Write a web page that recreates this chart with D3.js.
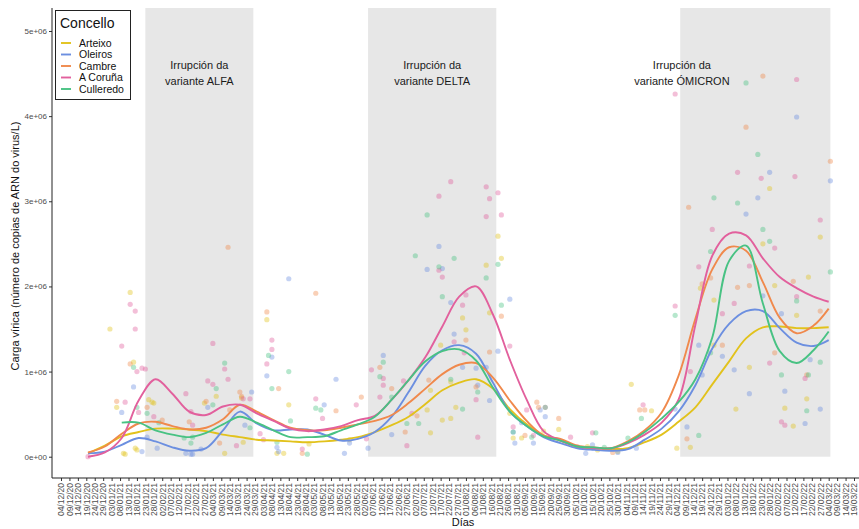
<!DOCTYPE html>
<html>
<head>
<meta charset="utf-8">
<script src="https://cdn.jsdelivr.net/npm/d3@7"></script>
<style>
  body { margin: 0; background: #fff; }
  svg { display: block; }
  text { font-family: "Liberation Sans", Arial, sans-serif; }
</style>
</head>
<body>
<div id="chart"></div>
<script>
// values are in millions of copies / L
const concellos = ["Arteixo", "Oleiros", "Cambre", "A Coruña", "Culleredo"];
const colors = ["#E2C21C", "#6C8FE0", "#F0894C", "#E2609D", "#48C283"];

const yTicks = [0, 1, 2, 3, 4, 5];
const yTickLabels = ["0e+00", "1e+06", "2e+06", "3e+06", "4e+06", "5e+06"];
const firstTick = "04/12/20", lastTick = "19/03/22", tickStepDays = 5;

const periods = [
  { start: "23/01/21", end: "28/03/21", label: "variante ALFA", at: "24/02/21" },
  { start: "04/06/21", end: "19/08/21", label: "variante DELTA", at: "12/07/21" },
  { start: "06/12/21", end: "05/03/22", label: "variante ÓMICRON", at: "07/12/21" }
];

// smoothed curves, read every 10 days
const smoothDates = ["20/12/20","30/12/20","09/01/21","19/01/21","29/01/21","08/02/21","18/02/21","28/02/21","10/03/21","20/03/21",
  "30/03/21","09/04/21","19/04/21","29/04/21","09/05/21","19/05/21","29/05/21","08/06/21","18/06/21","28/06/21",
  "08/07/21","18/07/21","28/07/21","07/08/21","17/08/21","27/08/21","06/09/21","16/09/21","26/09/21","06/10/21",
  "16/10/21","26/10/21","05/11/21","15/11/21","25/11/21","05/12/21","15/12/21","25/12/21","04/01/22","14/01/22",
  "24/01/22","03/02/22","13/02/22","23/02/22","04/03/22"];
const smoothArteixo = [0.04,0.13,0.24,0.29,0.33,0.33,0.32,0.30,0.26,0.23, 0.20,0.19,0.18,0.17,0.18,0.20,0.23,0.29,0.37,0.47,
  0.62,0.78,0.87,0.91,0.80,0.56,0.38,0.25,0.19,0.12, 0.10,0.09,0.10,0.17,0.26,0.41,0.58,0.85,1.12,1.39, 1.52,1.53,1.51,1.51,1.52];
const smoothOleiros = [0.04,0.06,0.14,0.22,0.18,0.11,0.07,0.10,0.31,0.53, 0.39,0.31,0.32,0.32,0.26,0.19,0.21,0.29,0.47,0.76,
  1.07,1.25,1.31,1.21,0.87,0.53,0.36,0.23,0.16,0.10, 0.08,0.07,0.09,0.20,0.33,0.53,0.84,1.27,1.56,1.71, 1.71,1.51,1.34,1.30,1.37];
const smoothCambre = [0.05,0.12,0.27,0.39,0.41,0.36,0.32,0.34,0.44,0.61, 0.53,0.43,0.34,0.31,0.31,0.34,0.38,0.42,0.49,0.63,
  0.80,0.97,1.08,1.10,0.93,0.66,0.42,0.25,0.21,0.13, 0.11,0.10,0.18,0.31,0.52,0.95,1.62,2.20,2.46,2.42, 2.05,1.63,1.45,1.54,1.74];
const smoothCoruna = [0.00,0.05,0.22,0.66,0.91,0.74,0.53,0.49,0.59,0.61, 0.51,0.42,0.33,0.30,0.32,0.36,0.43,0.48,0.67,0.90,
  1.17,1.53,1.88,2.00,1.67,1.14,0.67,0.30,0.19,0.12, 0.10,0.10,0.16,0.26,0.40,0.67,1.55,2.36,2.62,2.60, 2.33,2.11,1.98,1.88,1.82];
const smoothCulleredo = [null,null,0.40,0.40,0.31,0.26,0.23,0.28,0.38,0.47, 0.40,0.31,0.23,0.23,0.24,0.31,0.38,0.47,0.67,0.90,
  1.12,1.24,1.26,1.13,0.81,0.53,0.36,0.24,0.19,0.12, 0.11,0.10,0.17,0.29,0.45,0.64,0.91,1.40,2.30,2.48, 1.80,1.24,1.10,1.25,1.47];

// individual samples [date, value]
const ptsArteixo = [["02/01/21",1.50],["06/01/21",0.58],["10/01/21",0.04],["11/01/21",0.03],["14/01/21",1.93],["16/01/21",1.11],
  ["17/01/21",0.10],["18/01/21",0.08],["25/01/21",0.67],["27/01/21",0.64],["28/01/21",0.63],["27/02/21",0.63],["06/03/21",0.71],
  ["11/03/21",0.04],["21/03/21",0.69],["22/03/21",0.17],["05/04/21",1.61],["11/04/21",0.04],["15/04/21",0.04],["18/04/21",0.61],
  ["30/04/21",0.15],["24/05/21",0.20],["09/07/21",0.55],["11/07/21",0.28],["11/07/21",0.78],["17/07/21",1.31],["18/07/21",0.43],
  ["23/07/21",0.88],["23/07/21",0.45],["26/07/21",0.58],["30/07/21",1.63],["01/08/21",1.49],["13/08/21",2.25],["15/08/21",1.69],
  ["20/08/21",2.59],["22/08/21",2.33],["27/08/21",0.51],["29/08/21",0.22],["03/09/21",0.22],["16/09/21",0.30],["25/09/21",0.32],
  ["12/10/21",0.12],["18/10/21",0.08],["30/10/21",0.06],["07/11/21",0.85],["19/11/21",0.54],["04/12/21",0.10],["12/12/21",0.11],
  ["18/12/21",1.98],["26/12/21",1.84],["26/12/21",1.31],["08/01/22",0.56],["16/01/22",1.05],["24/01/22",2.50],["28/01/22",3.15],
  ["31/01/22",2.01],["06/02/22",0.57],["11/02/22",0.36],["13/02/22",1.66],["19/02/22",0.68],["20/02/22",2.11],["27/02/22",2.58]];
const ptsOleiros = [["09/01/21",0.52],["16/01/21",0.82],["21/01/21",0.06],["24/01/21",0.23],["30/01/21",0.10],["16/02/21",0.04],
  ["19/02/21",0.03],["20/02/21",0.03],["25/02/21",0.09],["01/03/21",0.58],["23/03/21",0.37],["27/03/21",0.76],["05/04/21",0.95],
  ["08/04/21",1.17],["11/04/21",0.11],["12/04/21",0.06],["18/04/21",2.09],["09/05/21",0.61],["16/05/21",0.91],["21/05/21",0.04],
  ["24/05/21",0.16],["04/06/21",0.10],["13/06/21",1.19],["18/06/21",0.26],["09/07/21",2.20],["16/07/21",2.47],["18/07/21",2.21],
  ["23/07/21",1.81],["25/07/21",1.44],["30/07/21",1.05],["07/08/21",1.04],["08/08/21",0.84],["13/08/21",1.05],["15/08/21",0.66],
  ["20/08/21",1.24],["27/08/21",1.85],["29/08/21",0.29],["30/08/21",0.16],["03/09/21",0.40],["10/09/21",0.16],["14/09/21",0.55],
  ["17/09/21",0.47],["11/10/21",0.04],["15/10/21",0.14],["30/10/21",0.05],["10/11/21",0.10],["03/12/21",0.56],["10/12/21",0.35],
  ["17/12/21",1.31],["19/12/21",0.96],["31/12/21",1.18],["07/01/22",1.02],["14/01/22",2.85],["16/01/22",0.74],["21/01/22",3.04],
  ["24/01/22",1.89],["28/01/22",3.34],["04/02/22",1.68],["06/02/22",0.77],["13/02/22",3.99],["18/02/22",0.39],["21/02/22",1.14],
  ["27/02/22",0.56],["05/03/22",3.24]];
const ptsCambre = [["06/01/21",0.65],["14/01/21",1.09],["24/01/21",0.58],["02/02/21",0.43],["18/02/21",0.41],["28/02/21",0.65],
  ["08/03/21",0.16],["13/03/21",2.46],["14/03/21",0.55],["20/03/21",0.76],["21/03/21",0.71],["05/04/21",1.70],["12/04/21",0.80],
  ["26/04/21",0.04],["04/05/21",1.92],["16/05/21",0.54],["31/05/21",0.70],["11/06/21",1.05],["18/06/21",0.80],["26/06/21",0.29],
  ["03/07/21",0.48],["10/07/21",0.90],["01/08/21",1.37],["07/08/21",0.82],["15/08/21",1.23],["22/08/21",1.65],["05/09/21",0.25],
  ["12/09/21",0.64],["13/09/21",0.58],["25/09/21",0.45],["06/10/21",0.12],["27/10/21",0.05],["12/11/21",0.55],["15/11/21",0.55],
  ["10/12/21",0.21],["11/12/21",2.93],["19/12/21",2.03],["24/12/21",2.10],["31/12/21",1.31],["09/01/22",1.99],["14/01/22",3.87],
  ["16/01/22",2.01],["24/01/22",4.47],["31/01/22",1.22],["11/02/22",2.06],["19/02/22",0.96],["27/02/22",1.71],["05/03/22",3.47]];
const ptsCoruna = [["20/12/20",0.00],["09/01/21",1.30],["11/01/21",0.64],["14/01/21",1.79],["17/01/21",1.71],["17/01/21",1.50],
  ["18/01/21",1.00],["19/01/21",0.52],["21/01/21",1.04],["23/01/21",1.03],["28/01/21",0.47],["16/02/21",0.74],["19/02/21",0.53],
  ["20/02/21",0.37],["01/03/21",0.89],["04/03/21",1.33],["04/03/21",0.85],["11/03/21",1.03],["13/03/21",0.91],["18/03/21",0.13],
  ["22/03/21",0.68],["26/03/21",0.68],["01/04/21",0.27],["03/04/21",0.20],["05/04/21",1.09],["08/04/21",1.37],["08/04/21",1.26],
  ["26/04/21",0.09],["04/05/21",0.68],["08/05/21",0.45],["28/05/21",0.61],["03/06/21",0.21],["06/06/21",1.02],["11/06/21",0.70],
  ["13/06/21",0.92],["13/06/21",0.84],["25/06/21",0.89],["27/06/21",0.13],["30/06/21",0.51],["16/07/21",3.06],["16/07/21",2.19],
  ["18/07/21",2.11],["23/07/21",3.23],["25/07/21",1.35],["30/07/21",1.78],["31/07/21",1.22],["01/08/21",1.90],["07/08/21",0.67],
  ["08/08/21",0.23],["13/08/21",3.17],["13/08/21",2.82],["15/08/21",3.03],["20/08/21",3.10],["22/08/21",2.84],["27/08/21",1.30],
  ["29/08/21",0.35],["06/09/21",0.55],["10/09/21",0.25],["17/09/21",0.58],["02/10/21",0.23],["15/10/21",0.28],["14/11/21",0.61],
  ["03/12/21",1.77],["03/12/21",4.26],["12/12/21",1.00],["17/12/21",2.23],["25/12/21",2.67],["31/12/21",1.68],["07/01/22",1.80],
  ["09/01/22",3.34],["16/01/22",2.24],["23/01/22",3.27],["28/01/22",1.10],["31/01/22",2.45],["04/02/22",0.41],["06/02/22",0.37],
  ["12/02/22",3.29],["13/02/22",4.43],["13/02/22",1.88],["18/02/22",0.92],["27/02/22",2.78]];
const ptsCulleredo = [["16/01/21",1.05],["18/01/21",0.58],["24/01/21",0.51],["31/01/21",0.40],["15/02/21",0.22],["19/02/21",0.16],
  ["20/02/21",0.23],["04/03/21",0.61],["06/03/21",0.80],["11/03/21",1.10],["26/03/21",0.34],["06/04/21",1.19],["08/04/21",0.80],
  ["11/04/21",0.17],["18/04/21",1.00],["19/04/21",0.42],["29/04/21",0.03],["04/05/21",0.57],["07/05/21",0.55],["11/06/21",0.94],
  ["13/06/21",1.11],["18/06/21",0.70],["27/06/21",0.39],["02/07/21",2.36],["04/07/21",0.39],["09/07/21",2.84],["16/07/21",2.23],
  ["18/07/21",1.88],["23/07/21",0.91],["25/07/21",2.33],["30/07/21",0.56],["08/08/21",0.76],["13/08/21",2.10],["20/08/21",2.26],
  ["22/08/21",1.78],["29/08/21",0.29],["09/09/21",0.23],["17/09/21",0.58],["17/10/21",0.28],["22/10/21",0.11],["05/11/21",0.22],
  ["13/11/21",0.45],["03/12/21",1.66],["17/12/21",0.25],["24/12/21",1.22],["24/12/21",2.41],["26/12/21",3.04],["09/01/22",2.98],
  ["14/01/22",4.39],["21/01/22",3.55],["24/01/22",2.67],["28/01/22",2.53],["04/02/22",0.96],["13/02/22",1.83],["19/02/22",0.54],
  ["20/02/22",0.96],["27/02/22",1.11],["05/03/22",2.17]];

const smoothSeries = [smoothArteixo, smoothOleiros, smoothCambre, smoothCoruna, smoothCulleredo];
const pointSeries = [ptsArteixo, ptsOleiros, ptsCambre, ptsCoruna, ptsCulleredo];

const W = 859, H = 529;
const panel = { left: 52, right: 874, top: 8, bottom: 478 };
const parse = d3.utcParse("%d/%m/%y");
const fmt = d3.utcFormat("%d/%m/%y");
const M = 1e6;

const x = d3.scaleUtc().domain([parse(firstTick), parse(lastTick)]).range([61, 854]);
const y = d3.scaleLinear().domain([-0.25 * M, 5.27 * M]).range([panel.bottom, panel.top]);

const svg = d3.select("#chart").append("svg").attr("width", W).attr("height", H);

// shaded periods
svg.append("g").selectAll("rect").data(periods).enter().append("rect")
  .attr("x", d => x(parse(d.start)))
  .attr("y", panel.top)
  .attr("width", d => x(parse(d.end)) - x(parse(d.start)))
  .attr("height", y(0) - panel.top)
  .attr("fill", "#E7E7E7");

// points
pointSeries.forEach((pts, i) => {
  svg.append("g").selectAll("circle").data(pts).enter().append("circle")
    .attr("cx", d => x(parse(d[0])))
    .attr("cy", d => y(d[1] * M))
    .attr("r", 2.6)
    .attr("fill", colors[i])
    .attr("fill-opacity", 0.4);
});

// smooth lines
const line = d3.line()
  .defined(d => d[1] != null)
  .x(d => x(parse(d[0])))
  .y(d => y(d[1] * M))
  .curve(d3.curveCatmullRom.alpha(0.5));

smoothSeries.forEach((vals, i) => {
  svg.append("path")
    .datum(smoothDates.map((dt, j) => [dt, vals[j]]))
    .attr("d", line)
    .attr("fill", "none")
    .attr("stroke", colors[i])
    .attr("stroke-width", 1.9);
});

// period labels
periods.forEach(p => {
  const t = svg.append("text")
    .attr("x", x(parse(p.at)))
    .attr("text-anchor", "middle")
    .attr("font-size", 11)
    .attr("fill", "#1a1a1a");
  t.append("tspan").attr("x", x(parse(p.at))).attr("y", 69).text("Irrupción da");
  t.append("tspan").attr("x", x(parse(p.at))).attr("y", 85).text(p.label);
});

// y axis
const yAxis = svg.append("g").attr("transform", `translate(${panel.left},0)`)
  .call(d3.axisLeft(y).tickValues(yTicks.map(v => v * M))
    .tickFormat((d, i) => yTickLabels[i]).tickSize(3).tickPadding(2));
yAxis.select(".domain").remove();
yAxis.selectAll(".tick line").attr("stroke", "#333");
yAxis.selectAll(".tick text").attr("font-size", 8).attr("fill", "#4D4D4D")
  .attr("font-family", "Liberation Sans, Arial, sans-serif");
svg.append("line").attr("x1", panel.left).attr("x2", panel.left)
  .attr("y1", panel.top).attr("y2", panel.bottom).attr("stroke", "#222").attr("stroke-width", 1);

// x axis
const tickDates = d3.utcDay.range(parse(firstTick), d3.utcDay.offset(parse(lastTick), 1), tickStepDays);
const xAxis = svg.append("g").attr("transform", `translate(0,${panel.bottom})`)
  .call(d3.axisBottom(x).tickValues(tickDates).tickFormat(fmt).tickSize(3));
xAxis.select(".domain").remove();
xAxis.selectAll(".tick line").attr("stroke", "#333");
xAxis.selectAll(".tick text")
  .attr("font-size", 8.5).attr("fill", "#4D4D4D")
  .attr("font-family", "Liberation Sans, Arial, sans-serif")
  .attr("text-anchor", "end")
  .attr("transform", "rotate(-90)")
  .attr("x", -5).attr("y", 0).attr("dy", "0.33em");
svg.append("line").attr("x1", panel.left).attr("x2", panel.right)
  .attr("y1", panel.bottom).attr("y2", panel.bottom).attr("stroke", "#222").attr("stroke-width", 1);

// axis titles
svg.append("text")
  .attr("transform", `translate(19,${(panel.top + panel.bottom) / 2 + 3}) rotate(-90)`)
  .attr("text-anchor", "middle").attr("font-size", 11).attr("fill", "#111")
  .text("Carga vírica (número de copias de ARN do virus/L)");
svg.append("text")
  .attr("x", (panel.left + panel.right) / 2).attr("y", 526)
  .attr("text-anchor", "middle").attr("font-size", 11).attr("fill", "#111")
  .text("Días");

// legend
const lg = svg.append("g");
lg.append("rect").attr("x", 55.5).attr("y", 10.5).attr("width", 75).attr("height", 89)
  .attr("fill", "#fff").attr("stroke", "#222").attr("stroke-width", 1);
lg.append("text").attr("x", 60).attr("y", 28).attr("font-size", 14).attr("fill", "#111").text("Concello");
concellos.forEach((c, i) => {
  const yy = 43 + i * 11.5;
  lg.append("line").attr("x1", 61).attr("x2", 71).attr("y1", yy).attr("y2", yy)
    .attr("stroke", colors[i]).attr("stroke-width", 1.9);
  lg.append("text").attr("x", 79).attr("y", yy + 3.8).attr("font-size", 10.5).attr("fill", "#111").text(c);
});
</script>
</body>
</html>
